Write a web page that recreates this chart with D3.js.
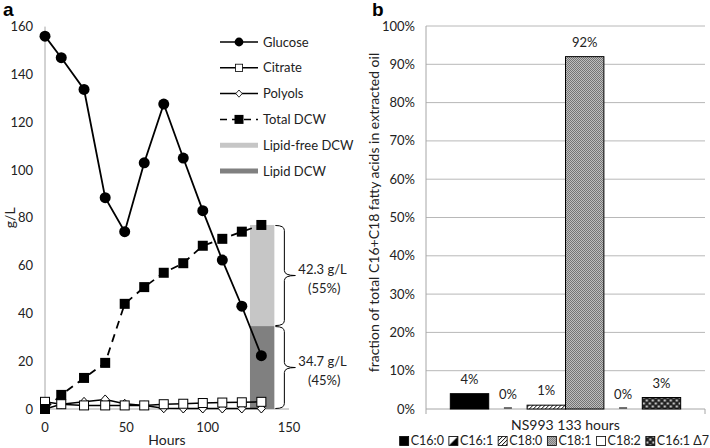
<!DOCTYPE html>
<html><head><meta charset="utf-8">
<script src="https://cdn.jsdelivr.net/npm/d3@7"></script>
<style>
body{margin:0;background:#fff;}
svg{font-family:Lato,"Open Sans",sans-serif;}
</style></head>
<body>
<svg id="c" width="710" height="448"></svg>
<script>
// ---------- Data: panel a ----------
const hours    = [0, 10, 24, 37, 49, 61, 73, 85, 97, 109, 121, 133];
const glucose  = [156, 147, 133.7, 88.4, 74.2, 103, 127.6, 105, 83, 62.3, 43, 22.3];
const citrate  = [3, 2, 1.5, 1.5, 1.5, 1.5, 2, 2.2, 2.5, 2.7, 2.8, 3];
const polyols  = [0, 2, 3, 4, 2.2, 1.5, 0.3, 0.2, 0.2, 0.2, 0.2, 0.2];
const totalDCW = [0, 5.9, 13, 19.3, 44, 51, 57, 61, 68.3, 71.2, 74.2, 77];
const lipidHour = 133.5;
const lipidDCW = 34.7;
const lipidFreeDCW = 42.3;
const braceLabels = [["42.3 g/L", "(55%)"], ["34.7 g/L", "(45%)"]];
const aYTicks = [0, 20, 40, 60, 80, 100, 120, 140, 160];
const aXTicks = [0, 50, 100, 150];
const aLegend = ["Glucose", "Citrate", "Polyols", "Total DCW", "Lipid-free DCW", "Lipid DCW"];

// ---------- Data: panel b ----------
const bCategory = "NS993 133 hours";
const fattyAcids = ["C16:0", "C16:1", "C18:0", "C18:1", "C18:2", "C16:1 Δ7"];
const fattyValues = [0.04, 0.0, 0.01, 0.92, 0.0, 0.03];
const fattyLabels = ["4%", "0%", "1%", "92%", "0%", "3%"];
const bYTicks = [0, 0.1, 0.2, 0.3, 0.4, 0.5, 0.6, 0.7, 0.8, 0.9, 1.0];

const svg = d3.select("#c");

// patterns
const defs = svg.append("defs");
{
  const p1 = defs.append("pattern").attr("id","hatch").attr("patternUnits","userSpaceOnUse")
    .attr("width",4).attr("height",4);
  p1.append("rect").attr("width",4).attr("height",4).attr("fill","#fff");
  p1.append("path").attr("d","M-1,1 l2,-2 M0,4 l4,-4 M3,5 l2,-2").attr("stroke","#000").attr("stroke-width",1);
  const p2 = defs.append("pattern").attr("id","checker").attr("patternUnits","userSpaceOnUse")
    .attr("width",2).attr("height",2);
  p2.append("rect").attr("width",2).attr("height",2).attr("fill","#fff");
  p2.append("rect").attr("width",1).attr("height",1).attr("fill","#333");
  p2.append("rect").attr("x",1).attr("y",1).attr("width",1).attr("height",1).attr("fill","#333");
  const p3 = defs.append("pattern").attr("id","dots").attr("patternUnits","userSpaceOnUse")
    .attr("width",6).attr("height",6);
  p3.append("rect").attr("width",6).attr("height",6).attr("fill","#222");
  p3.append("rect").attr("x",0.5).attr("y",0.5).attr("width",2).attr("height",2).attr("fill","#ddd");
  p3.append("rect").attr("x",3.5).attr("y",3.5).attr("width",2).attr("height",2).attr("fill","#ddd");
  const p4 = defs.append("pattern").attr("id","half").attr("patternUnits","objectBoundingBox")
    .attr("patternContentUnits","objectBoundingBox").attr("width",1).attr("height",1);
  p4.append("rect").attr("width",1).attr("height",1).attr("fill","#fff");
  p4.append("path").attr("d","M0,1 L1,0 L1,1 Z").attr("fill","#000");
}
const fills = ["#000", "url(#half)", "url(#hatch)", "url(#checker)", "#fff", "url(#dots)"];

// ================= Panel a =================
const xA = d3.scaleLinear().domain([0,150]).range([45,289]);
const yA = d3.scaleLinear().domain([0,160]).range([409,26.6]);

svg.append("text").attr("x",3).attr("y",16).attr("font-size",19).attr("font-weight","bold")
  .attr("font-family","Arial, Liberation Sans, sans-serif").text("a");

svg.append("line").attr("x1",xA(0)).attr("x2",xA(0)).attr("y1",yA(160)).attr("y2",yA(0)).attr("stroke","#a6a6a6");
svg.append("line").attr("x1",xA(0)).attr("x2",xA(150)).attr("y1",yA(0)).attr("y2",yA(0)).attr("stroke","#a6a6a6");

svg.append("g").selectAll("text").data(aYTicks).join("text")
  .attr("x",33).attr("y",d=>yA(d)).attr("dy","0.35em").attr("text-anchor","end")
  .attr("font-size",13).attr("fill","#222").text(d=>d);
svg.append("g").selectAll("text").data(aXTicks).join("text")
  .attr("x",d=>xA(d)).attr("y",yA(0)+18).attr("dy","0.35em").attr("text-anchor","middle")
  .attr("font-size",13).attr("fill","#222").text(d=>d);
svg.append("text").attr("x",xA(75)).attr("y",440).attr("dy","0.35em").attr("text-anchor","middle")
  .attr("font-size",14).attr("fill","#222").text("Hours");
svg.append("text").attr("transform",`translate(15,${yA(80)}) rotate(-90)`).attr("text-anchor","middle")
  .attr("font-size",14).attr("fill","#222").text("g/L");

// lipid stacked bar
const barW = xA(141) - xA(126);
svg.append("rect").attr("x",xA(lipidHour)-barW/2).attr("width",barW)
  .attr("y",yA(lipidDCW)).attr("height",yA(0)-yA(lipidDCW)).attr("fill","#808080");
svg.append("rect").attr("x",xA(lipidHour)-barW/2).attr("width",barW)
  .attr("y",yA(lipidDCW+lipidFreeDCW)).attr("height",yA(lipidDCW)-yA(lipidDCW+lipidFreeDCW)).attr("fill","#c6c6c6");

// braces
function brace(y0, y1, xl, xv, xt) {
  const ym = (y0+y1)/2, r = 5;
  return `M${xl},${y0} Q${xv},${y0} ${xv},${y0+r} L${xv},${ym-r} Q${xv},${ym} ${xt},${ym} Q${xv},${ym} ${xv},${ym+r} L${xv},${y1-r} Q${xv},${y1} ${xl},${y1}`;
}
const braceSegs = [[lipidDCW+lipidFreeDCW, lipidDCW], [lipidDCW, 0]];
const bxl = xA(lipidHour)+barW/2+1;
braceSegs.forEach((s,i)=>{
  const y0 = yA(s[0])+0.5, y1 = yA(s[1])-0.5;
  svg.append("path").attr("d",brace(y0,y1,bxl,bxl+9,bxl+20)).attr("fill","none").attr("stroke","#000").attr("stroke-width",1);
  const ym=(y0+y1)/2;
  svg.append("text").attr("x",bxl+23).attr("y",ym-2).attr("font-size",13).attr("fill","#222").text(braceLabels[i][0]);
  svg.append("text").attr("x",bxl+65).attr("y",ym+17).attr("text-anchor","end").attr("font-size",13).attr("fill","#222").text(braceLabels[i][1]);
});

const lineA = d3.line().x((d,i)=>xA(hours[i])).y(d=>yA(d));

function markers(g, vals, type) {
  vals.forEach((v,i)=>{ drawMarker(g, type, xA(hours[i]), yA(v)); });
}
function drawMarker(g, type, x, y) {
  if (type==="circle") g.append("circle").attr("cx",x).attr("cy",y).attr("r",5.5).attr("fill","#000");
  else if (type==="fsquare") g.append("rect").attr("x",x-5).attr("y",y-5).attr("width",10).attr("height",10).attr("fill","#000");
  else if (type==="osquare") g.append("rect").attr("x",x-4.5).attr("y",y-4.5).attr("width",9).attr("height",9).attr("fill","#fff").attr("stroke","#000").attr("stroke-width",1);
  else if (type==="diamond") g.append("path").attr("d",`M${x},${y-4.5} L${x+4},${y} L${x},${y+4.5} L${x-4},${y} Z`).attr("fill","#fff").attr("stroke","#000").attr("stroke-width",1);
}

const gS = svg.append("g");
gS.append("path").attr("d",lineA(polyols)).attr("fill","none").attr("stroke","#000").attr("stroke-width",1.5);
markers(gS, polyols, "diamond");
gS.append("path").attr("d",lineA(citrate)).attr("fill","none").attr("stroke","#000").attr("stroke-width",1.5);
markers(gS, citrate, "osquare");
gS.append("path").attr("d",lineA(totalDCW)).attr("fill","none").attr("stroke","#000").attr("stroke-width",1.8).attr("stroke-dasharray","8,6");
markers(gS, totalDCW, "fsquare");
gS.append("path").attr("d",lineA(glucose)).attr("fill","none").attr("stroke","#000").attr("stroke-width",1.8);
markers(gS, glucose, "circle");

// legend a
const legTypes = ["circle","osquare","diamond","fsquare","light","dark"];
const legY = d3.scalePoint().domain(aLegend).range([42,171]);
aLegend.forEach((name,i)=>{
  const y = legY(name), t = legTypes[i];
  const g = svg.append("g");
  if (t==="light" || t==="dark") {
    g.append("line").attr("x1",220).attr("x2",258).attr("y1",y).attr("y2",y)
      .attr("stroke", t==="light" ? "#c6c6c6" : "#808080").attr("stroke-width",5);
  } else {
    g.append("line").attr("x1",220).attr("x2",258).attr("y1",y).attr("y2",y).attr("stroke","#000")
      .attr("stroke-width",1.5).attr("stroke-dasharray", t==="fsquare" ? "7,5" : null);
    const sc = t==="circle"?0.8:(t==="fsquare"?0.9:0.8);
    const gm = g.append("g").attr("transform",`translate(239,${y}) scale(${sc})`);
    drawMarker(gm, t, 0, 0);
  }
  g.append("text").attr("x",263).attr("y",y).attr("dy","0.35em").attr("font-size",13).attr("fill","#222").text(name);
});

// ================= Panel b =================
const x0 = 426, x1 = 705;
const yB = d3.scaleLinear().domain([0,1]).range([409,26]);
const xB0 = d3.scaleBand().domain([bCategory]).range([x0,x1]).paddingInner(0.1).paddingOuter(0.095);
const xB1 = d3.scaleBand().domain(fattyAcids).range([0, xB0.bandwidth()]);

svg.append("text").attr("x",372).attr("y",16).attr("font-size",19).attr("font-weight","bold")
  .attr("font-family","Arial, Liberation Sans, sans-serif").text("b");

svg.append("g").selectAll("line").data(bYTicks.slice(1)).join("line")
  .attr("x1",x0).attr("x2",x1).attr("y1",d=>yB(d)).attr("y2",d=>yB(d)).attr("stroke","#b8b8b8");
svg.append("line").attr("x1",x0).attr("x2",x0).attr("y1",yB(1)).attr("y2",yB(0)).attr("stroke","#a6a6a6");
svg.append("line").attr("x1",x0).attr("x2",x1).attr("y1",yB(0)).attr("y2",yB(0)).attr("stroke","#a6a6a6");
[x0,x1].forEach(x=>svg.append("line").attr("x1",x).attr("x2",x).attr("y1",yB(0)).attr("y2",yB(0)+5).attr("stroke","#a6a6a6"));

svg.append("g").selectAll("text").data(bYTicks).join("text")
  .attr("x",415).attr("y",d=>yB(d)).attr("dy","0.35em").attr("text-anchor","end")
  .attr("font-size",13).attr("fill","#222").text(d=>Math.round(d*100)+"%");

svg.append("text").attr("transform",`translate(379,${yB(0.5)-5}) rotate(-90)`).attr("text-anchor","middle")
  .attr("font-size",14).attr("fill","#222").text("fraction of total C16+C18 fatty acids in extracted oil");

const gB = svg.append("g").attr("transform",`translate(${xB0(bCategory)},0)`);
fattyAcids.forEach((fa,i)=>{
  const v = fattyValues[i];
  const bx = xB1(fa), bw = xB1.bandwidth();
  if (v > 0) {
    gB.append("rect").attr("x",bx).attr("width",bw).attr("y",yB(v)).attr("height",yB(0)-yB(v))
      .attr("fill",fills[i]).attr("stroke","#000").attr("stroke-width",1);
  } else {
    gB.append("line").attr("x1",bx+bw/2-4).attr("x2",bx+bw/2+4).attr("y1",yB(0)-1).attr("y2",yB(0)-1)
      .attr("stroke","#444").attr("stroke-width",1.5);
  }
  gB.append("text").attr("x",bx+bw/2).attr("y",yB(v)-10).attr("text-anchor","middle")
    .attr("font-size",13).attr("fill","#222").text(fattyLabels[i]);
});

svg.append("text").attr("x",(x0+x1)/2).attr("y",425).attr("dy","0.35em").attr("text-anchor","middle")
  .attr("font-size",14).attr("fill","#222").text(bCategory);

// legend b
const gL = svg.append("g");
let lx = 0;
const gapIcon = 2, gapItem = 5;
fattyAcids.forEach((fa,i)=>{
  const g = gL.append("g").attr("transform",`translate(${lx},0)`);
  g.append("rect").attr("x",0).attr("y",-4.5).attr("width",9).attr("height",9)
    .attr("fill",fills[i]).attr("stroke","#000").attr("stroke-width",0.8);
  const t = g.append("text").attr("x",9+gapIcon).attr("y",0).attr("dy","0.35em").attr("font-size",12.5)
    .attr("fill","#222").text(fa);
  lx += 9 + gapIcon + t.node().getComputedTextLength() + gapItem;
});
const totalW = lx - gapItem;
gL.attr("transform",`translate(${709-totalW},441)`);
</script>
</body></html>
